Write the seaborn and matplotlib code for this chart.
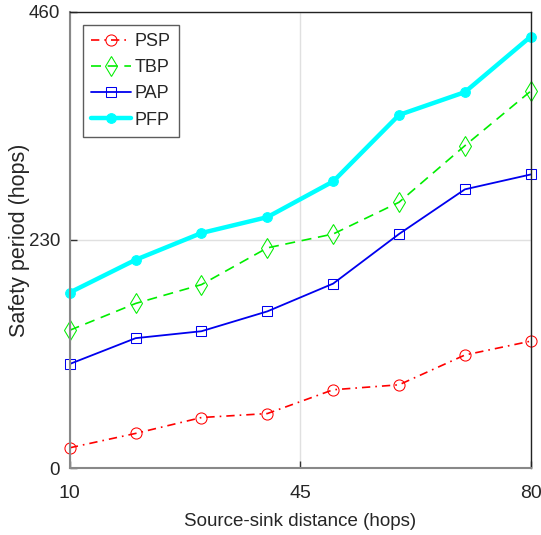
import matplotlib
matplotlib.use("Agg")
import matplotlib.pyplot as plt
import seaborn as sns
import pandas as pd

# data
distance = [10, 20, 30, 40, 50, 60, 70, 80]
psp = [20.5, 35, 51, 55, 79, 84, 114, 128]
tbp = [139, 166, 185, 222, 236, 268, 325, 380]
pap = [105, 131, 138, 158, 186, 236, 281, 296]
pfp = [177, 210, 237, 253, 289, 356, 379, 435]

sns.set_style("white")
plt.rcParams['font.family'] = ['Liberation Sans', 'DejaVu Sans']

fig = plt.figure(figsize=(5.41, 5.35), dpi=100)
ax = fig.add_axes([0.129, 0.125, 0.852, 0.853])

styles = [
    ('PSP', psp, dict(color='red', linestyle=(0, (5, 3, 1, 3)), marker='o', markersize=8,
                      markerfacecolor='none', markeredgecolor='red', linewidth=1.2)),
    ('TBP', tbp, dict(color='#00ee00', linestyle=(0, (6, 4)), marker='d', markersize=10,
                      markerfacecolor='none', markeredgecolor='#00ee00', linewidth=1.2)),
    ('PAP', pap, dict(color='#0000ee', linestyle='-', marker='s', markersize=7,
                      markerfacecolor='none', markeredgecolor='#0000ee', linewidth=1.3)),
    ('PFP', pfp, dict(color='cyan', linestyle='-', marker='o', markersize=7,
                      markerfacecolor='cyan', markeredgecolor='cyan', linewidth=3.2)),
]

for name, vals, kw in styles:
    df = pd.DataFrame({'x': distance, 'y': vals})
    sns.lineplot(data=df, x='x', y='y', ax=ax, label=name, clip_on=False, **kw)

ax.set_xlim(10, 80)
ax.set_ylim(0, 460)
ax.set_xticks([10, 45, 80])
ax.set_yticks([0, 230, 460])
ax.grid(True, color='#e0e0e0', linewidth=1)
ax.tick_params(labelsize=14, direction='in', length=5, width=1, color='#333333',
               bottom=True, left=True)
ax.tick_params(axis='x', pad=12)
ax.tick_params(axis='y', pad=7, labelsize=13.5)

for side in ['left', 'bottom']:
    ax.spines[side].set_color('#888888')
    ax.spines[side].set_linewidth(1.5)
for side in ['top', 'right']:
    ax.spines[side].set_color('#222222')
    ax.spines[side].set_linewidth(1.0)

ax.set_xlabel('Source-sink distance (hops)', fontsize=13.5, labelpad=8)
ax.set_ylabel('Safety period (hops)', fontsize=15.5)
ax.yaxis.set_label_coords(-0.087, 0.5)

leg = ax.legend(loc='upper left', fontsize=13, frameon=True, fancybox=False,
                edgecolor='#333333', borderaxespad=0.75, handlelength=2.2,
                labelspacing=0.5, borderpad=0.45, handletextpad=0.2)
leg.get_frame().set_linewidth(1.0)

fig.savefig('out.png', dpi=100)
